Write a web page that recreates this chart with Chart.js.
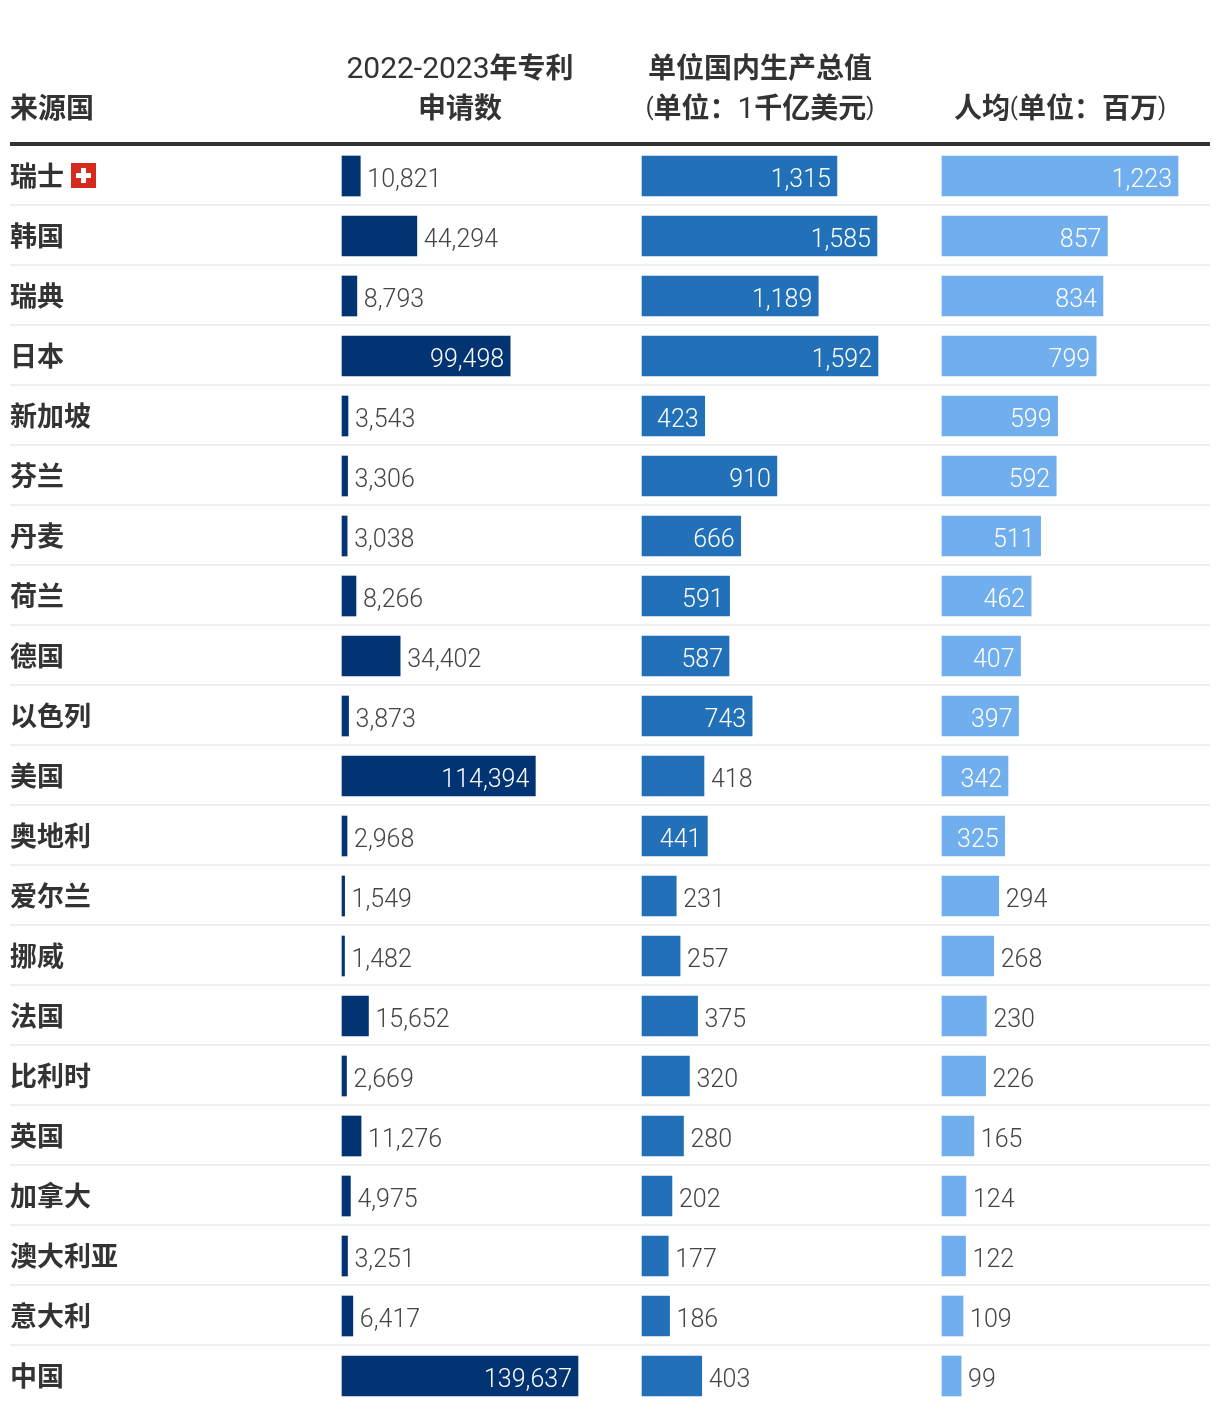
<!DOCTYPE html>
<html>
<head>
<meta charset="utf-8">
<style>
  html, body { margin: 0; padding: 0; background: #fff; }
  canvas { display: block; }
</style>
<script src="https://cdn.jsdelivr.net/npm/chart.js@4"></script>
</head>
<body>
<canvas id="patentChart" width="1220" height="1414"></canvas>
<script>
var countries = ['瑞士', '韩国', '瑞典', '日本', '新加坡', '芬兰', '丹麦', '荷兰', '德国', '以色列', '美国',
    '奥地利', '爱尔兰', '挪威', '法国', '比利时', '英国', '加拿大', '澳大利亚', '意大利', '中国'];
var patents = [10821, 44294, 8793, 99498, 3543, 3306, 3038, 8266, 34402, 3873, 114394,
    2968, 1549, 1482, 15652, 2669, 11276, 4975, 3251, 6417, 139637];
var perGdp = [1315, 1585, 1189, 1592, 423, 910, 666, 591, 587, 743, 418,
    441, 231, 257, 375, 320, 280, 202, 177, 186, 403];
var perCapita = [1223, 857, 834, 799, 599, 592, 511, 462, 407, 397, 342,
    325, 294, 268, 230, 226, 165, 124, 122, 109, 99];
var headers = [
    { center: 52, left: 10, lines: [null, '来源国'] },
    { center: 460, lines: ['2022-2023年专利', '申请数'] },
    { center: 760, lines: ['单位国内生产总值', '(单位：1千亿美元)'] },
    { center: 1060, lines: [null, '人均(单位：百万)'] }
];

var DIGITS = '400 30px Roboto, sans-serif';
var PARENS = '400 23px Roboto, sans-serif';
var CJK = '700 28px "Noto Sans CJK SC", sans-serif';
var TEXT = '#333333';

// the columns all share one plot area, so each x scale is shifted to put its zero on the column start
function columnScale(origin, maxValue) {
    var perPx = maxValue / 236;
    return {
        type: 'linear',
        display: false,
        grid: { drawTicks: false },
        min: -(origin - 10) * perPx,
        max: (1210 - origin) * perPx
    };
}

// header text mixes a light latin face with a bold cjk one
function splitRuns(text) {
    return text.match(/[()]+|[\x00-\x7f]+|[^\x00-\x7f]+/g).map(function (part) {
        if (part[0] === '(' || part[0] === ')') return { text: part, font: PARENS, dy: 2 };
        if (/[\x00-\x7f]/.test(part[0])) return { text: part, font: DIGITS, dy: 3 };
        return { text: part, font: CJK, dy: 0 };
    });
}

function drawMixed(ctx, text, centerX, y, left) {
    var runs = splitRuns(text);
    var total = 0;
    runs.forEach(function (run) {
        ctx.font = run.font;
        run.width = ctx.measureText(run.text).width;
        total += run.width;
    });
    var x = left !== undefined ? left : centerX - total / 2;
    ctx.textAlign = 'left';
    ctx.textBaseline = 'middle';
    ctx.fillStyle = TEXT;
    runs.forEach(function (run) {
        ctx.font = run.font;
        ctx.fillText(run.text, x, y + run.dy);
        x += run.width;
    });
}

var tablePlugin = {
    id: 'tablePlugin',
    beforeDatasetsDraw: function (chart) {
        var ctx = chart.ctx;
        var area = chart.chartArea;
        var y = chart.scales.y;
        ctx.save();
        ctx.fillStyle = TEXT;
        ctx.fillRect(area.left, area.top - 4, area.width, 4);
        ctx.fillStyle = '#eeeeee';
        for (var i = 0; i < countries.length - 1; i++) {
            ctx.fillRect(area.left, y.getPixelForValue(i) + 28, area.width, 2);
        }
        headers.forEach(function (header) {
            header.lines.forEach(function (line, n) {
                if (line) drawMixed(ctx, line, header.center, 67 + n * 40, header.left);
            });
        });
        // swiss flag next to the first row
        var fy = y.getPixelForValue(0);
        ctx.fillStyle = '#d52b1e';
        ctx.fillRect(71, fy - 13, 25, 25);
        ctx.fillStyle = '#ffffff';
        ctx.fillRect(81, fy - 8, 5, 15);
        ctx.fillRect(76, fy - 3, 15, 5);
        ctx.restore();
    },
    afterDatasetsDraw: function (chart) {
        var ctx = chart.ctx;
        ctx.save();
        ctx.font = '300 25px Roboto, sans-serif';
        ctx.textBaseline = 'middle';
        chart.data.datasets.forEach(function (dataset, d) {
            chart.getDatasetMeta(d).data.forEach(function (bar, i) {
                var label = dataset.data[i].toLocaleString('en-US');
                // room is judged on full digit widths so a narrow 1 does not pull a label inside
                var room = ctx.measureText(label.replace(/\d/g, '0')).width + 21;
                var inside = room < bar.x - bar.base;
                ctx.textAlign = inside ? 'right' : 'left';
                ctx.fillStyle = inside ? '#ffffff' : '#444444';
                ctx.fillText(label, inside ? bar.x - 6 : bar.x + 7, bar.y + 5);
            });
        });
        ctx.restore();
    }
};

var ctx = document.getElementById('patentChart').getContext('2d');
var chart = new Chart(ctx, {
    type: 'bar',
    data: {
        labels: countries,
        datasets: [
            { data: patents, xAxisID: 'x1', backgroundColor: '#023373' },
            { data: perGdp, xAxisID: 'x2', backgroundColor: '#2170b8' },
            { data: perCapita, xAxisID: 'x3', backgroundColor: '#70aeee' }
        ]
    },
    options: {
        indexAxis: 'y',
        responsive: false,
        animation: false,
        layout: { padding: { left: 10, right: 10, top: 146, bottom: 8 } },
        datasets: { bar: { grouped: false, barThickness: 40, borderWidth: 0 } },
        plugins: { legend: { display: false }, tooltip: { enabled: false } },
        scales: {
            x1: columnScale(342, 139637),
            x2: columnScale(642, 1592),
            x3: columnScale(942, 1223),
            y: {
                grid: { display: false, drawTicks: false },
                border: { display: false },
                // otherwise half a label height is reserved under the last row
                afterFit: function (scale) { scale.paddingBottom = 0; },
                ticks: {
                    mirror: true,
                    padding: 0,
                    color: TEXT,
                    font: { family: '"Noto Sans CJK SC", sans-serif', size: 27, weight: '700' }
                }
            }
        }
    },
    plugins: [tablePlugin]
});
</script>
</body>
</html>
